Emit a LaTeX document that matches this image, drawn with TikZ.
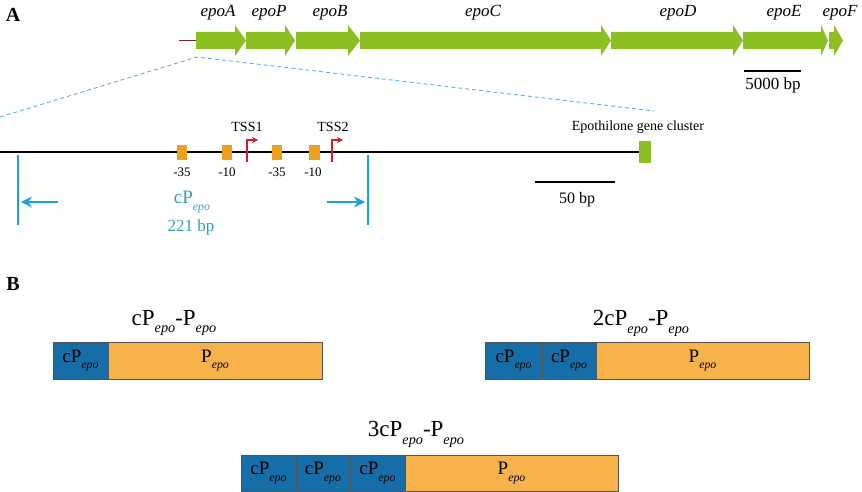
\documentclass[tikz,border=0pt]{standalone}
\usepackage{fontspec}
\setmainfont{Liberation Serif}
\usetikzlibrary{arrows.meta}
\definecolor{geneg}{RGB}{140,192,34}
\definecolor{boxor}{RGB}{240,160,30}
\definecolor{pepo}{RGB}{247,178,76}
\definecolor{cpblue}{RGB}{22,110,168}
\definecolor{lineblue}{RGB}{30,160,220}
\definecolor{dashblue}{RGB}{95,175,215}
\definecolor{tealtxt}{RGB}{50,160,190}
\definecolor{tssred}{RGB}{215,25,40}
\definecolor{frame}{RGB}{85,85,85}
\newcommand\fsz[1]{\fontsize{#1}{#1}\selectfont}
\newcommand\epo{\raisebox{-0.75ex}{\scalebox{0.62}{\itshape epo}}}
\newcommand\genearrow[3]{\fill[geneg] (#1,32) -- (#2,32) -- (#2,25) -- (#3,40.5) -- (#2,56) -- (#2,49) -- (#1,49) -- cycle;}
\tikzset{
  genelbl/.style={font=\fsz{17}\itshape, inner sep=0pt},
  motif/.style={fill=boxor, minimum width=10pt, minimum height=15pt, inner sep=0pt},
  motiflbl/.style={font=\fsz{13}, inner sep=0pt},
  tss/.style={draw=tssred, line width=1.7pt, -{Stealth[length=6pt,width=6pt]}},
  cpbox/.style={fill=cpblue, draw=frame, line width=0.8pt, minimum height=37pt, inner sep=0pt, font=\fsz{19}},
  pbox/.style={fill=pepo, draw=frame, line width=0.8pt, minimum height=37pt, inner sep=0pt, font=\fsz{19}},
  ttl/.style={font=\fsz{23}, inner sep=0pt}
}
\begin{document}
\begin{tikzpicture}[x=1pt,y=-1pt]
\useasboundingbox (0,0) rectangle (862,492);
% panel labels
\node[font=\fsz{20}\bfseries, inner sep=0pt] (A) at (13,15) {A};
\node[font=\fsz{20}\bfseries, inner sep=0pt] (B) at (13,284) {B};
% gene cluster
\draw[draw={rgb,255:red,140;green,30;blue,30}, line width=1.2pt] (179,40.5) -- (196,40.5);
\genearrow{196}{235}{246}
\genearrow{246}{285}{295}
\genearrow{296}{348}{360}
\genearrow{360}{601}{611}
\genearrow{611}{733}{743}
\genearrow{743}{821}{828}
\genearrow{829}{834}{843}
\node[genelbl] (gA) at (218,13) {epoA};
\node[genelbl] (gP) at (269,13) {epoP};
\node[genelbl] (gB) at (330,13) {epoB};
\node[genelbl] (gC) at (483,13) {epoC};
\node[genelbl] (gD) at (678,13) {epoD};
\node[genelbl] (gE) at (784,13) {epoE};
\node[genelbl] (gF) at (840,13) {epoF};
% scale 5000
\coordinate (s1a) at (744,71);
\coordinate (s1b) at (801,71);
\draw[line width=1.3pt] (s1a) -- (s1b);
\node[font=\fsz{17}, inner sep=0pt] (s1t) at (773,85) {5000 bp};
% zoom dashed lines
\coordinate (zt) at (197,57);
\coordinate (zl) at (0,117);
\coordinate (zr) at (654,111);
\draw[dashblue, line width=0.9pt, dash pattern=on 4pt off 3pt] (zl) -- (zt) -- (zr);
% main line
\coordinate (m0) at (0,152);
\node[fill=geneg, minimum width=12pt, minimum height=22pt, inner sep=0pt] (cl) at (645,152) {};
\draw[line width=1.4pt] (m0) -- (cl.west);
\node[font=\fsz{14}, inner sep=0pt] (clt) at (638,127) {Epothilone gene cluster};
% motifs
\node[motif] (b1) at (181.5,152.5) {};
\node[motif] (b2) at (227,152.5) {};
\node[motif] (b3) at (277,152.5) {};
\node[motif, minimum width=11pt] (b4) at (314,152.5) {};
\node[motiflbl] at (182,172) {-35};
\node[motiflbl] at (227,172) {-10};
\node[motiflbl] at (277,172) {-35};
\node[motiflbl] at (313,172) {-10};
% TSS
\draw[tss] (247,162) -- (247,140) -- (258,140);
\draw[tss] (332,162) -- (332,140) -- (343,140);
\node[font=\fsz{14}, inner sep=0pt] (t1) at (247,127) {TSS1};
\node[font=\fsz{14}, inner sep=0pt] (t2) at (333,127) {TSS2};
% cPepo extent
\coordinate (v1a) at (18,155); \coordinate (v1b) at (18,225);
\coordinate (v2a) at (368,155); \coordinate (v2b) at (368,225);
\draw[lineblue, line width=1.3pt] (v1a) -- (v1b);
\draw[lineblue, line width=1.3pt] (v2a) -- (v2b);
\coordinate (a1s) at (58,202); \coordinate (a1e) at (21,202);
\coordinate (a2s) at (327,202); \coordinate (a2e) at (365,202);
\draw[lineblue, line width=2pt, -{Stealth[length=11pt,width=11pt]}] (a1s) -- (a1e);
\draw[lineblue, line width=2pt, -{Stealth[length=11pt,width=11pt]}] (a2s) -- (a2e);
\node[font=\fsz{19}, text=tealtxt, inner sep=0pt] (cpl) at (192,202) {cP\epo};
\node[font=\fsz{17}, text=tealtxt, inner sep=0pt] (cpbp) at (191,227) {221 bp};
% scale 50
\coordinate (s2a) at (535,182);
\coordinate (s2b) at (615,182);
\draw[line width=1.4pt] (s2a) -- (s2b);
\node[font=\fsz{16}, inner sep=0pt] (s2t) at (577,200) {50 bp};
% Panel B construct 1
\node[ttl] (T1) at (174,323) {cP\epo-P\epo};
\node[cpbox, minimum width=55pt] (c11) at (80.5,360.5) {cP\epo};
\node[pbox, minimum width=214pt] (p1) at (215,360.5) {P\epo};
% construct 2
\node[ttl] (T2) at (641,323) {2cP\epo-P\epo};
\node[cpbox, minimum width=57pt] (c21) at (513.5,360.5) {cP\epo};
\node[cpbox, minimum width=54pt] (c22) at (569,360.5) {cP\epo};
\node[pbox, minimum width=213pt] (p2) at (702.5,360.5) {P\epo};
% construct 3
\node[ttl] (T3) at (416,434) {3cP\epo-P\epo};
\node[cpbox, minimum width=55pt, minimum height=36pt] (c31) at (268.5,473) {cP\epo};
\node[cpbox, minimum width=54pt, minimum height=36pt] (c32) at (323,473) {cP\epo};
\node[cpbox, minimum width=55pt, minimum height=36pt] (c33) at (377.5,473) {cP\epo};
\node[pbox, minimum width=213pt, minimum height=36pt] (p3) at (511.5,473) {P\epo};
\end{tikzpicture}
\end{document}
